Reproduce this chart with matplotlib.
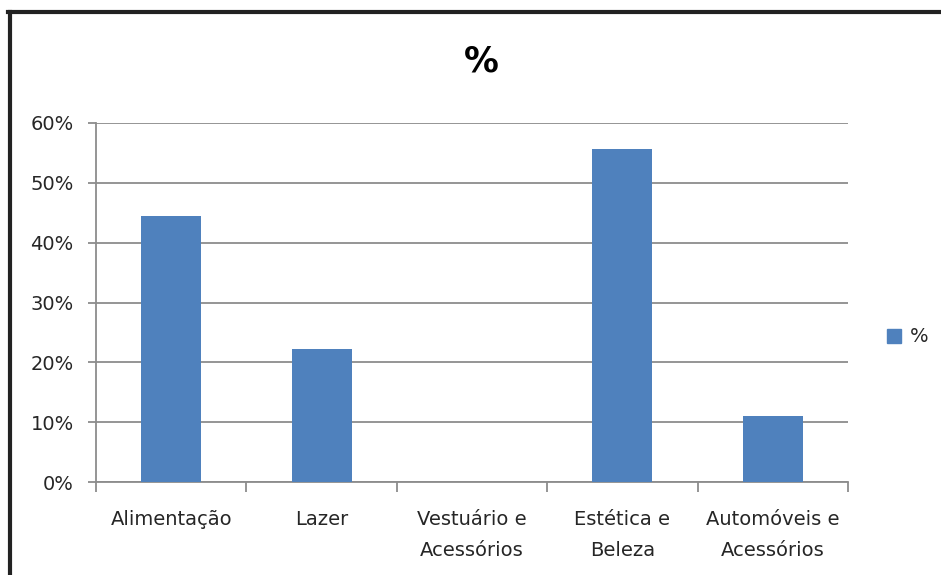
import matplotlib
matplotlib.use("Agg")
import matplotlib.pyplot as plt
from matplotlib.lines import Line2D
from matplotlib.patches import Patch
from matplotlib.ticker import FuncFormatter, FixedLocator, MultipleLocator
import numpy as np

categories = ["Alimentação", "Lazer", "Vestuário e\nAcessórios", "Estética e\nBeleza", "Automóveis e\nAcessórios"]
values = [44.4, 22.2, 0.0, 55.6, 11.1]
series_name = "%"
title = "%"

W, H = 941, 575
fig = plt.figure(figsize=(W / 100, H / 100), dpi=100)
fig.patch.set_facecolor("white")

x0, x1 = 96, 848
y0, y1 = 482, 123
ax = fig.add_axes([x0 / W, 1 - y0 / H, (x1 - x0) / W, (y0 - y1) / H])

bar_color = "#4F81BD"
grid_color = "#8C8C8C"
text_color = "#262626"
fs = 14

x = np.arange(len(categories))
ax.bar(x, values, width=0.4, color=bar_color, zorder=3, label=series_name)

ax.set_xlim(-0.5, len(categories) - 0.5)
ax.set_ylim(0, 60)
ax.yaxis.set_major_locator(MultipleLocator(10))
ax.yaxis.set_major_formatter(FuncFormatter(lambda v, p: f"{int(round(v))}%"))
ax.grid(axis="y", color=grid_color, linewidth=1.3, zorder=0)

for s in ["top", "right"]:
    ax.spines[s].set_visible(False)
for s in ["left", "bottom"]:
    ax.spines[s].set_color(grid_color)
    ax.spines[s].set_linewidth(1.3)

ax.set_xticks(x)
ax.set_xticklabels(categories)
ax.tick_params(axis="x", which="major", length=0, pad=20, labelsize=fs, colors=text_color)
ax.xaxis.set_minor_locator(FixedLocator(np.arange(-0.5, len(categories), 1.0)))
ax.tick_params(axis="x", which="minor", length=7, width=1.3, color=grid_color, direction="out")
ax.tick_params(axis="y", length=6, width=1.3, color=grid_color, labelsize=fs, labelcolor=text_color, pad=10)
for lbl in ax.get_xticklabels():
    lbl.set_linespacing(1.8)

fig.text(481 / W, 1 - 62 / H, title, ha="center", va="center", fontsize=25, fontweight="bold", color="black")

handles = [Patch(facecolor=bar_color, edgecolor=bar_color, label=series_name)]
fig.legend(handles=handles, loc="center left", bbox_to_anchor=(873 / W, 1 - 337 / H), frameon=False,
           fontsize=fs, handlelength=0.75, handleheight=0.75, handletextpad=0.45,
           labelcolor=text_color, borderpad=0.2)

fig.add_artist(Line2D([9.5 / W, 9.5 / W], [0, 1 - 11.5 / H], transform=fig.transFigure, color="#222222", linewidth=3))
fig.add_artist(Line2D([8 / W, 1], [1 - 11.5 / H, 1 - 11.5 / H], transform=fig.transFigure, color="#222222", linewidth=3))

fig.savefig("out.png", dpi=100, facecolor="white")
